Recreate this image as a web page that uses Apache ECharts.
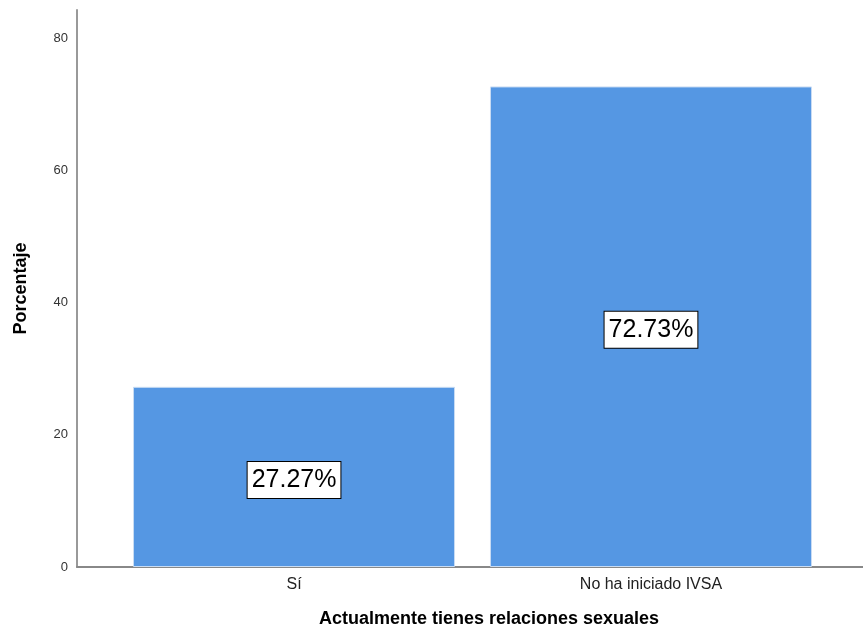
<!DOCTYPE html>
<html>
<head>
<meta charset="utf-8">
<script src="https://cdn.jsdelivr.net/npm/echarts@6/dist/echarts.min.js"></script>
<style>
  html, body { margin: 0; padding: 0; background: #fff; }
  #chart { width: 863px; height: 643px; }
</style>
</head>
<body>
<div id="chart"></div>
<script>
// datos
var categorias = ['Sí', 'No ha iniciado IVSA'];
var porcentajes = [27.27, 72.73];
var yTicks = [0, 20, 40, 60, 80];

var myChart = echarts.init(document.getElementById('chart'));

// las barras van en posiciones 0 y 1 de un eje de valores
var barData = categorias.map(function (c, i) {
  return [i, porcentajes[i]];
});

var option = {
  backgroundColor: '#fff',
  animation: false,
  grid: { left: 77, right: 0, top: 10, bottom: 76 },
  xAxis: {
    type: 'value',
    min: -0.608,
    max: 1.594,
    name: 'Actualmente tienes relaciones sexuales',
    nameLocation: 'middle',
    nameGap: 43,
    nameTextStyle: {
      fontFamily: 'Liberation Sans',
      fontSize: 18,
      fontWeight: 'bold',
      color: '#000',
      padding: [0, 0, 0, 38]
    },
    axisLine: { show: true, onZero: false, lineStyle: { color: '#888', width: 2 } },
    axisTick: { show: false },
    splitLine: { show: false },
    axisLabel: {
      customValues: [0, 1],
      margin: 10,
      fontFamily: 'Liberation Sans',
      fontSize: 16,
      color: '#222',
      formatter: function (v) {
        return categorias[Math.round(v)];
      }
    }
  },
  yAxis: {
    type: 'value',
    min: 0,
    max: 84.3,
    name: 'Porcentaje',
    nameLocation: 'middle',
    nameGap: 47,
    nameTextStyle: {
      fontFamily: 'Liberation Sans',
      fontSize: 18,
      fontWeight: 'bold',
      color: '#000'
    },
    axisLine: { show: true, onZero: false, lineStyle: { color: '#999', width: 2 } },
    axisTick: { show: false },
    splitLine: { show: false },
    axisLabel: {
      customValues: yTicks,
      margin: 9,
      fontFamily: 'Liberation Sans',
      fontSize: 13,
      color: '#333'
    }
  },
  series: [{
    type: 'bar',
    data: barData,
    barWidth: 322,
    itemStyle: {
      color: '#5597e3',
      borderColor: '#c9dcf3',
      borderWidth: 1
    },
    label: {
      show: true,
      position: 'inside',
      offset: [0, 3],
      formatter: function (p) {
        return p.value[1].toFixed(2) + '%';
      },
      fontFamily: 'Liberation Sans',
      fontSize: 25,
      color: '#000',
      backgroundColor: '#fff',
      borderColor: '#000',
      borderWidth: 1,
      padding: [6, 4, 5, 4]
    }
  }]
};

myChart.setOption(option);
</script>
</body>
</html>
